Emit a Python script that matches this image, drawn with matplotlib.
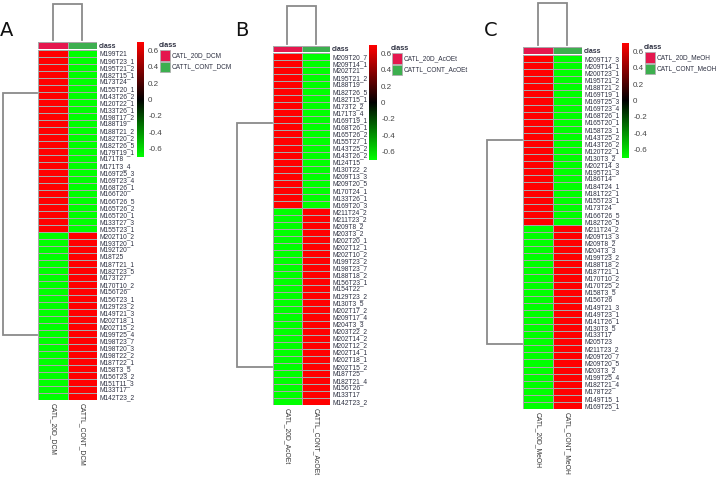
import matplotlib
matplotlib.use('Agg')
import numpy as np
import matplotlib.pyplot as plt
from matplotlib.colors import LinearSegmentedColormap, ListedColormap
from matplotlib.patches import Rectangle

W, H = 719, 480

# ---------------- data ----------------
A_up = ["M199T21", "M196T23_1", "M195T21_2", "M182T15_1", "M173T24", "M155T20_1",
        "M143T26_2", "M120T22_1", "M133T26_1", "M198T17_2", "M188T19", "M188T21_2",
        "M182T20_2", "M182T26_5", "M179T19_1", "M171T8", "M171T3_4", "M169T25_3",
        "M169T23_4", "M168T26_1", "M166T20", "M166T26_5", "M165T26_2", "M165T20_1",
        "M133T27_3", "M155T23_1"]
A_down = ["M202T10_2", "M193T20_1", "M192T20", "M18T25", "M187T21_1", "M182T23_5",
          "M173T27", "M170T10_2", "M156T26", "M156T23_1", "M129T23_2", "M149T21_3",
          "M202T18_1", "M202T15_2", "M199T25_4", "M198T23_7", "M198T20_3", "M198T22_2",
          "M187T22_1", "M158T3_5", "M156T23_2", "M151T11_3", "M133T17", "M142T23_2"]
A_cols = ["CATL_20D_DCM", "CATTL_CONT_DCM"]

B_up = ["M209T20_7", "M209T14_1", "M202T21", "M195T21_2", "M188T19", "M182T26_5",
        "M182T15_1", "M173T2_2", "M171T3_4", "M169T19_1", "M168T26_1", "M165T26_2",
        "M155T27_1", "M143T25_2", "M143T26_2", "M124T15", "M130T22_2", "M209T13_3",
        "M209T20_5", "M170T24_1", "M133T26_1", "M169T20_3"]
B_down = ["M211T24_2", "M211T23_2", "M209T8_2", "M203T3_2", "M202T20_1", "M202T12_1",
          "M202T10_2", "M199T23_2", "M198T23_7", "M188T18_2", "M156T23_1", "M154T22",
          "M129T23_2", "M130T3_5", "M202T17_2", "M209T17_4", "M204T3_3", "M203T22_2",
          "M202T14_2", "M202T12_2", "M202T14_1", "M202T18_1", "M202T15_2", "M187T25",
          "M182T21_4", "M156T26", "M133T17", "M142T23_2"]
B_cols = ["CATL_20D_AcOEt", "CATTL_CONT_AcOEt"]

C_up = ["M209T17_3", "M209T14_1", "M200T23_1", "M195T21_2", "M188T21_2", "M169T19_1",
        "M169T25_3", "M169T23_4", "M168T26_1", "M165T20_1", "M158T23_1", "M143T25_2",
        "M143T26_2", "M120T22_1", "M130T3_2", "M202T14_3", "M195T21_3", "M186T14",
        "M184T24_1", "M181T22_1", "M155T23_1", "M173T24", "M166T26_5", "M182T26_5"]
C_down = ["M211T24_2", "M209T13_3", "M209T8_2", "M204T3_3", "M199T23_2", "M188T18_2",
          "M187T21_1", "M170T10_2", "M170T25_2", "M158T3_5", "M156T26", "M149T21_3",
          "M149T23_1", "M141T26_1", "M130T3_5", "M133T17", "M205T23", "M211T23_2",
          "M209T20_7", "M209T20_5", "M203T3_2", "M199T25_4", "M182T21_4", "M178T22",
          "M149T15_1", "M169T25_1"]
C_cols = ["CATL_20D_MeOH", "CATL_CONT_MeOH"]

# row-scaled values (20D, CONT) for the two row clusters
up_values = [0.707, -0.707]
down_values = [-0.707, 0.707]
cbar_ticks = [0.6, 0.4, 0.2, 0, -0.2, -0.4, -0.6]
cbar_labels = ["0.6", "0.4", "0.2", "0", "-0.2", "-0.4", "-0.6"]

# --------------- style ---------------
ann_colors = ["#E5174E", "#3DAF4F"]
heat_cmap = LinearSegmentedColormap.from_list("gbr", ["#00FF00", "#000000", "#FF0000"])
grid_col = "#A8A8A8"
dend_col = "#8A8A8A"
lab_col = "#2E3142"
FAM = "Liberation Sans"

fig = plt.figure(figsize=(W / 100, H / 100), dpi=100)
fig.patch.set_facecolor("white")


def px_axes(x0, y0, x1, y1):
    return fig.add_axes([x0 / W, 1 - y1 / H, (x1 - x0) / W, (y1 - y0) / H])


panels = [
    dict(letter="A", lpos=(7, 30), up=A_up, down=A_down, cols=A_cols,
         heat=(38, 50, 97, 400), ann=(38, 42, 97, 48.5), cdend_top=4,
         rdend_x=3, rdend_nodes=(6.1, 40.7),
         cbar=(137, 42, 144, 157), leg=(159, 43)),
    dict(letter="B", lpos=(242, 30), up=B_up, down=B_down, cols=B_cols,
         heat=(273, 53, 330, 405), ann=(273, 45.5, 330, 52), cdend_top=6,
         rdend_x=237, rdend_nodes=(9.9, 44.6),
         cbar=(369, 45, 377, 160), leg=(391, 46)),
    dict(letter="C", lpos=(491, 30), up=C_up, down=C_down, cols=C_cols,
         heat=(523, 55, 582, 409), ann=(523, 47, 582, 53.5), cdend_top=3,
         rdend_x=487, rdend_nodes=(12.0, 40.8),
         cbar=(622, 43, 629, 158), leg=(644, 45)),
]

for p in panels:
    names = p["up"] + p["down"]
    n = len(names)
    M = np.array([up_values] * len(p["up"]) + [down_values] * len(p["down"]))
    hx0, hy0, hx1, hy1 = p["heat"]

    # heatmap
    ax = px_axes(hx0, hy0, hx1, hy1)
    mesh = ax.pcolormesh(np.arange(3), np.arange(n + 1), M, cmap=heat_cmap,
                         vmin=-0.707, vmax=0.707, edgecolors=grid_col, linewidth=0.6)
    ax.set_xlim(0, 2)
    ax.set_ylim(n, 0)
    ax.yaxis.tick_right()
    ax.set_yticks(np.arange(n) + 0.5)
    ax.set_yticklabels(names, family=FAM, fontsize=4.8, color=lab_col)
    ax.set_xticks([0.5, 1.5])
    ax.set_xticklabels(p["cols"], rotation=-90, fontsize=4.9, color="#333333",
                       family=FAM, va="top")
    ax.tick_params(length=0, pad=1.5, axis="y")
    ax.tick_params(length=0, pad=2.5, axis="x")
    for s in ax.spines.values():
        s.set_visible(False)

    # annotation bar
    ax0, ay0, ax1, ay1 = p["ann"]
    aa = px_axes(ax0, ay0, ax1, ay1)
    aa.pcolormesh(np.arange(3), np.arange(2), np.array([[0, 1]]),
                  cmap=ListedColormap(ann_colors), vmin=0, vmax=1,
                  edgecolors=grid_col, linewidth=0.6)
    aa.set_xlim(0, 2)
    aa.set_ylim(0, 1)
    aa.set_xticks([])
    aa.yaxis.tick_right()
    aa.set_yticks([0.5])
    aa.set_yticklabels(["class"], fontsize=5.0, fontweight="bold", color=lab_col,
                       family=FAM)
    aa.tick_params(length=0, pad=1.5)
    for s in aa.spines.values():
        s.set_visible(False)

    # column dendrogram
    cd = px_axes(hx0, p["cdend_top"], hx1, ay0 - 2)
    cd.plot([0.5, 0.5, 1.5, 1.5], [0, 1, 1, 0], color=dend_col, lw=1.3,
            solid_joinstyle="miter", clip_on=False)
    cd.set_xlim(0, 2)
    cd.set_ylim(0, 1)
    cd.axis("off")

    # row dendrogram
    rd = px_axes(p["rdend_x"], hy0, hx0 - 1, hy1)
    t, b = p["rdend_nodes"]
    rd.plot([1, 0, 0, 1], [t, t, b, b], color=dend_col, lw=1.3,
            solid_joinstyle="miter", clip_on=False)
    rd.set_xlim(0, 1)
    rd.set_ylim(n, 0)
    rd.axis("off")

    # colorbar
    cx0, cy0, cx1, cy1 = p["cbar"]
    cax = px_axes(cx0, cy0, cx1, cy1)
    cb = fig.colorbar(mesh, cax=cax, ticks=cbar_ticks)
    cb.set_ticklabels(cbar_labels)
    cb.outline.set_visible(False)
    cax.tick_params(length=0, labelsize=5.8, colors="#444444", pad=3)
    for lab in cax.get_yticklabels():
        lab.set_family(FAM)

    # legend
    lx, ly = p["leg"]
    la = px_axes(lx, ly, lx + 75, ly + 35)
    la.set_xlim(0, 75)
    la.set_ylim(35, 0)
    la.axis("off")
    la.text(0, 2.5, "class", fontsize=5.3, fontweight="bold", color=lab_col,
            va="center", ha="left", family=FAM)
    for i, (c, lab) in enumerate(zip(ann_colors, p["cols"])):
        y = 7 + i * 11.5
        la.add_patch(Rectangle((1, y), 10, 10.5, facecolor=c, edgecolor="#B0B0B0", lw=0.6))
        la.text(12.5, y + 5.5, lab, fontsize=4.7,
                color=lab_col, va="center", ha="left", family=FAM)

    # panel letter
    fig.text(p["lpos"][0] / W, 1 - p["lpos"][1] / H, p["letter"], fontsize=14,
             color="#111111", ha="center", va="center", family="DejaVu Sans")

fig.savefig("out.png", dpi=100, facecolor="white")
